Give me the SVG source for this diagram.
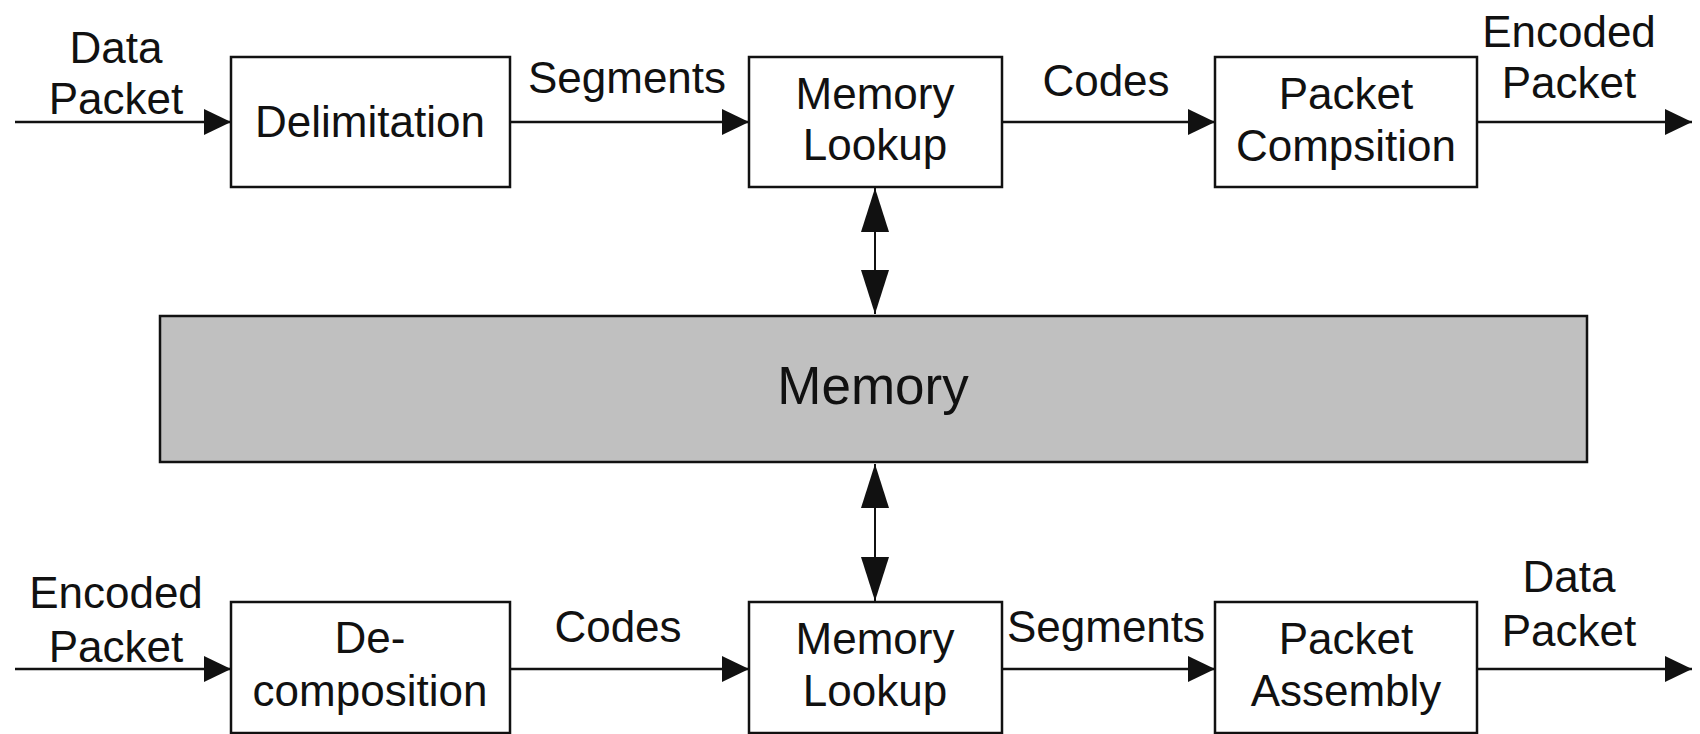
<svg xmlns="http://www.w3.org/2000/svg" width="1700" height="734" viewBox="0 0 1700 734">
<style>
.box{fill:#fff;stroke:#111;stroke-width:2.5}
.mem{fill:#c0c0c0;stroke:#111;stroke-width:2.5}
.t{font-family:"Liberation Sans",Arial,sans-serif;font-size:44px;fill:#111;text-anchor:middle}
.big{font-size:53px}
.c{stroke:#111;stroke-width:2.5;fill:none}
.v{stroke:#111;stroke-width:2;fill:none}
</style>
<defs>
<marker id="ah" markerUnits="userSpaceOnUse" markerWidth="27" markerHeight="26" refX="27" refY="13" orient="auto" viewBox="0 0 27 26"><path d="M0,0 L27,13 L0,26 z" fill="#111"/></marker>
<marker id="av" markerUnits="userSpaceOnUse" markerWidth="44" markerHeight="28" refX="44" refY="14" orient="auto-start-reverse" viewBox="0 0 44 28"><path d="M0,0 L44,14 L0,28 z" fill="#111"/></marker>
</defs>
<rect width="1700" height="734" fill="#fff"/>
<g id="connectors">
<line class="c" x1="15" y1="122" x2="231" y2="122" marker-end="url(#ah)"/>
<line class="c" x1="510" y1="122" x2="749" y2="122" marker-end="url(#ah)"/>
<line class="c" x1="1002" y1="122" x2="1215" y2="122" marker-end="url(#ah)"/>
<line class="c" x1="1477" y1="122" x2="1692" y2="122" marker-end="url(#ah)"/>
<line class="v" x1="875" y1="188" x2="875" y2="314" marker-start="url(#av)" marker-end="url(#av)"/>
<line class="v" x1="875" y1="464" x2="875" y2="601" marker-start="url(#av)" marker-end="url(#av)"/>
<line class="c" x1="15" y1="669" x2="231" y2="669" marker-end="url(#ah)"/>
<line class="c" x1="510" y1="669" x2="749" y2="669" marker-end="url(#ah)"/>
<line class="c" x1="1002" y1="669" x2="1215" y2="669" marker-end="url(#ah)"/>
<line class="c" x1="1477" y1="669" x2="1692" y2="669" marker-end="url(#ah)"/>
<text class="t" x="116" y="63">Data</text>
<text class="t" x="116" y="114">Packet</text>
<text class="t" x="627" y="93">Segments</text>
<text class="t" x="1106" y="96">Codes</text>
<text class="t" x="1569" y="47">Encoded</text>
<text class="t" x="1569" y="98">Packet</text>
<text class="t" x="116" y="608">Encoded</text>
<text class="t" x="116" y="662">Packet</text>
<text class="t" x="618" y="642">Codes</text>
<text class="t" x="1106" y="642">Segments</text>
<text class="t" x="1569" y="592">Data</text>
<text class="t" x="1569" y="646">Packet</text>
</g>
<g id="delimitation">
<rect class="box" x="231" y="57" width="279" height="130"/>
<text class="t" x="370" y="137">Delimitation</text>
</g>
<g id="lookup-top">
<rect class="box" x="749" y="57" width="253" height="130"/>
<text class="t" x="875" y="109">Memory</text>
<text class="t" x="875" y="160">Lookup</text>
</g>
<g id="composition">
<rect class="box" x="1215" y="57" width="262" height="130"/>
<text class="t" x="1346" y="109">Packet</text>
<text class="t" x="1346" y="161">Compsition</text>
</g>
<g id="memory">
<rect class="mem" x="160" y="316" width="1427" height="146"/>
<text class="t big" x="873" y="404">Memory</text>
</g>
<g id="decomposition">
<rect class="box" x="231" y="602" width="279" height="131"/>
<text class="t" x="370" y="653">De-</text>
<text class="t" x="370" y="706">composition</text>
</g>
<g id="lookup-bottom">
<rect class="box" x="749" y="602" width="253" height="131"/>
<text class="t" x="875" y="654">Memory</text>
<text class="t" x="875" y="706">Lookup</text>
</g>
<g id="assembly">
<rect class="box" x="1215" y="602" width="262" height="131"/>
<text class="t" x="1346" y="654">Packet</text>
<text class="t" x="1346" y="706">Assembly</text>
</g>
</svg>
